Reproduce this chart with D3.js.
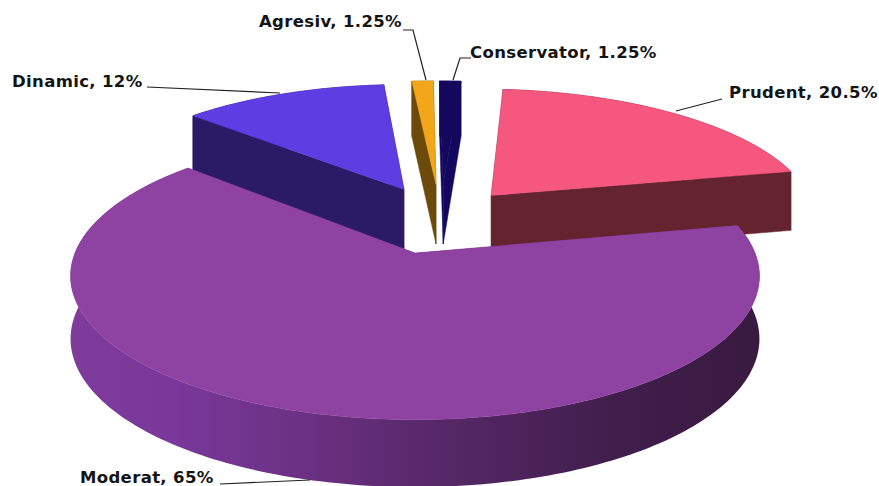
<!DOCTYPE html>
<html>
<head>
<meta charset="utf-8">
<script src="https://cdn.jsdelivr.net/npm/d3@7/dist/d3.min.js"></script>
<style>
  html, body { margin: 0; padding: 0; background: #fff; }
  svg { display: block; }
  text { font-family: "DejaVu Sans", sans-serif; font-weight: 700; fill: #141414; letter-spacing: 0.35px; }
</style>
</head>
<body>
<svg id="chart" width="879" height="486"></svg>
<script>
// Portfolio split, clockwise from twelve o'clock
const categories = ["Conservator", "Prudent", "Moderat", "Dinamic", "Agresiv"];
const shares = [1.25, 20.5, 65, 12, 1.25];
const valueLabels = ["1.25%", "20.5%", "65%", "12%", "1.25%"];

// Styling and exploded offsets per slice, on the unit disc
const topColors = ["#14085e", "#f5577e", "#8e42a1", "#5e3de2", "#f2a71a"];
const wallColors = ["#14085e", "#63232f", "#5c2a70", "#2b1a66", "#6b4a0c"];
const offsetU = [0.09, 0.24, 0, -0.035, 0.067];
const offsetV = [0.53, 0.44, 0, 0.49, 0.53];
const drawOrder = [3, 1, 0, 4, 2];

// Label anchors and their leader lines
const labelX = [470, 729, 80, 12, 259];
const labelY = [58, 98, 483, 87, 27];
const leaders = [
  [[471, 58], [460, 58], [453, 80]],
  [[722, 99], [676, 111]],
  [[220, 484], [310, 480]],
  [[147, 87], [280, 93]],
  [[403, 30], [413, 30], [426, 80]]
];

const svg = d3.select("#chart");

// Perspective projection of the tilted disc
const CX = 415, CY = 253, RX = 340, RY = 140, K = 0.16;
const project = (u, v) => [CX + RX * u / (1 + K * v), CY - RY * v / (1 + K * v)];
const drop = (v) => 62 / (1 + 0.08 * v);
const lower = (u, v) => { const p = project(u, v); return [p[0], p[1] + drop(v)]; };

const pieLayout = d3.pie().sort(null).value(d => d).startAngle(0).endAngle(2 * Math.PI);
const slices = pieLayout(shares);
const line = d3.line();
const closed = pts => line(pts) + "Z";

// Gradient along the front rim of the large slice
const defs = svg.append("defs");
const rim = defs.append("linearGradient")
  .attr("id", "rimShade").attr("gradientUnits", "userSpaceOnUse")
  .attr("x1", 72).attr("x2", 760).attr("y1", 0).attr("y2", 0);
[[0, "#7e3b9a"], [0.15, "#79389a"], [0.35, "#6a3081"], [0.55, "#552766"], [0.8, "#3f1e4b"], [1, "#391a40"]]
  .forEach(([o, c]) => rim.append("stop").attr("offset", o).attr("stop-color", c));

const arcAngles = (a0, a1) => {
  const n = Math.max(4, Math.ceil((a1 - a0) / 0.02));
  return d3.range(n + 1).map(i => a0 + (a1 - a0) * i / n);
};

drawOrder.forEach(i => {
  const s = slices[i], ou = offsetU[i], ov = offsetV[i];
  const g = svg.append("g").attr("class", "slice");
  const rimUV = arcAngles(s.startAngle, s.endAngle)
    .map(a => [ou + Math.sin(a), ov + Math.cos(a)]);
  const apex = [ou, ov];
  const first = rimUV[0], last = rimUV[rimUV.length - 1];
  const wall = (a, b) => closed([project(...a), project(...b), lower(...b), lower(...a)]);
  const wallStroke = i === 2 ? "none" : wallColors[i];

  // Radial walls, then the outer wall, then the upper face; thin strokes close the seams
  g.append("path").attr("d", wall(apex, first)).attr("fill", wallColors[i])
    .attr("stroke", wallStroke).attr("stroke-width", 0.5);
  g.append("path").attr("d", wall(apex, last)).attr("fill", wallColors[i])
    .attr("stroke", wallStroke).attr("stroke-width", 0.5);
  g.append("path")
    .attr("d", closed(rimUV.map(p => project(...p)).concat(rimUV.slice().reverse().map(p => lower(...p)))))
    .attr("fill", i === 2 ? "url(#rimShade)" : wallColors[i])
    .attr("stroke", wallStroke).attr("stroke-width", 0.5);
  g.append("path")
    .attr("d", closed([project(...apex)].concat(rimUV.map(p => project(...p)))))
    .attr("fill", topColors[i])
    .attr("stroke", topColors[i]).attr("stroke-width", 0.5);
});

// Leader lines and labels
leaders.forEach(pts => {
  svg.append("path").attr("d", line(pts)).attr("fill", "none")
    .attr("stroke", "#222").attr("stroke-width", 1.2);
});
categories.forEach((c, i) => {
  svg.append("text").attr("x", labelX[i]).attr("y", labelY[i])
    .attr("font-size", 16.5).text(`${c}, ${valueLabels[i]}`);
});
</script>
</body>
</html>
